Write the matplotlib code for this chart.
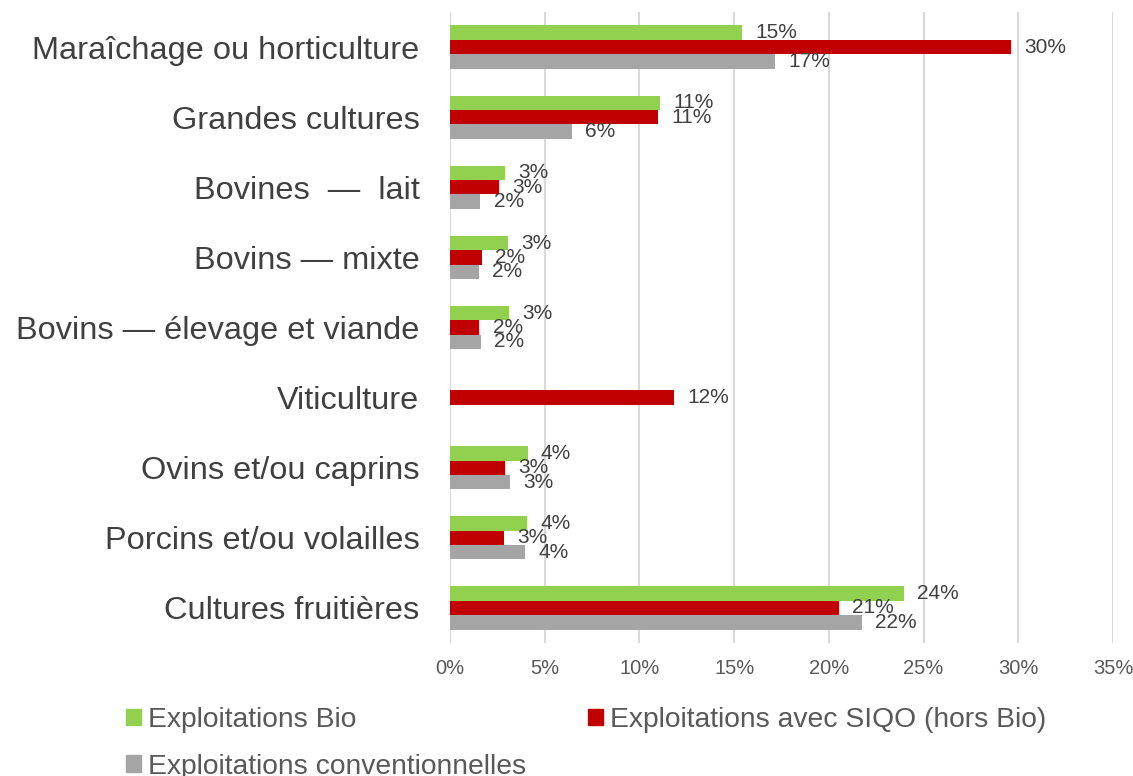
import numpy as np
import matplotlib.pyplot as plt
from matplotlib.patches import Patch

# categories, top to bottom
categories = [
    "Maraîchage ou horticulture",
    "Grandes cultures",
    "Bovines  —  lait",
    "Bovins — mixte",
    "Bovins — élevage et viande",
    "Viticulture",
    "Ovins et/ou caprins",
    "Porcins et/ou volailles",
    "Cultures fruitières",
]

# shares in %
bio = [15.4, 11.1, 2.9, 3.05, 3.1, np.nan, 4.1, 4.07, 23.95]
siqo = [29.6, 10.97, 2.57, 1.69, 1.55, 11.83, 2.91, 2.86, 20.54]
conv = [17.14, 6.44, 1.6, 1.52, 1.64, np.nan, 3.19, 3.95, 21.75]

series_names = [
    "Exploitations Bio",
    "Exploitations avec SIQO (hors Bio)",
    "Exploitations conventionnelles",
]
colors = ["#92D050", "#C00000", "#A5A5A5"]
x_ticks = [0, 5, 10, 15, 20, 25, 30, 35]

plt.rcParams["font.family"] = ["Liberation Sans", "DejaVu Sans"]

fig = plt.figure(figsize=(11.33, 7.76), dpi=100)
ax = fig.add_axes([450 / 1133, 1 - 643 / 776, 663 / 1133, 631 / 776])

y = np.arange(len(categories))
h = 0.205
offsets = [-h, 0, h]

for vals, off, col in zip([bio, siqo, conv], offsets, colors):
    vals = np.array(vals, dtype=float)
    ax.barh(y + off, np.nan_to_num(vals), height=h, color=col, zorder=2)
    # data labels, outside end
    for yi, v in zip(y, vals):
        if np.isnan(v):
            continue
        ax.annotate(f"{v:.0f}%", (v, yi + off), xytext=(9.5, 0),
                    textcoords="offset points", va="center", ha="left",
                    fontsize=15, color="#404040", zorder=3)

ax.set_xlim(0, 35)
ax.set_ylim(len(categories) - 0.5, -0.5)
ax.set_xticks(x_ticks)
ax.set_xticklabels([f"{t}%" for t in x_ticks])
ax.set_yticks(y)
ax.set_yticklabels(categories)
ax.tick_params(axis="x", length=0, pad=11.5, labelsize=14.5, labelcolor="#595959")
ax.tick_params(axis="y", length=0, pad=22, labelsize=23.4, labelcolor="#404040")
ax.grid(axis="x", color="#D9D9D9", linewidth=1.5, zorder=0)
for s in ax.spines.values():
    s.set_visible(False)

# legend, filled row-wise
handles = [Patch(color=c) for c in colors]
order = [0, 2, 1]
fig.legend([handles[i] for i in order], [series_names[i] for i in order],
           ncol=2, loc="upper left", bbox_to_anchor=(112 / 1133, 1 - 693 / 776),
           frameon=False, fontsize=20.3, labelcolor="#595959",
           handlelength=0.53, handleheight=0.53, handletextpad=0.25,
           columnspacing=2.2, labelspacing=0.73, borderpad=0)

fig.savefig("out.png", dpi=100)
